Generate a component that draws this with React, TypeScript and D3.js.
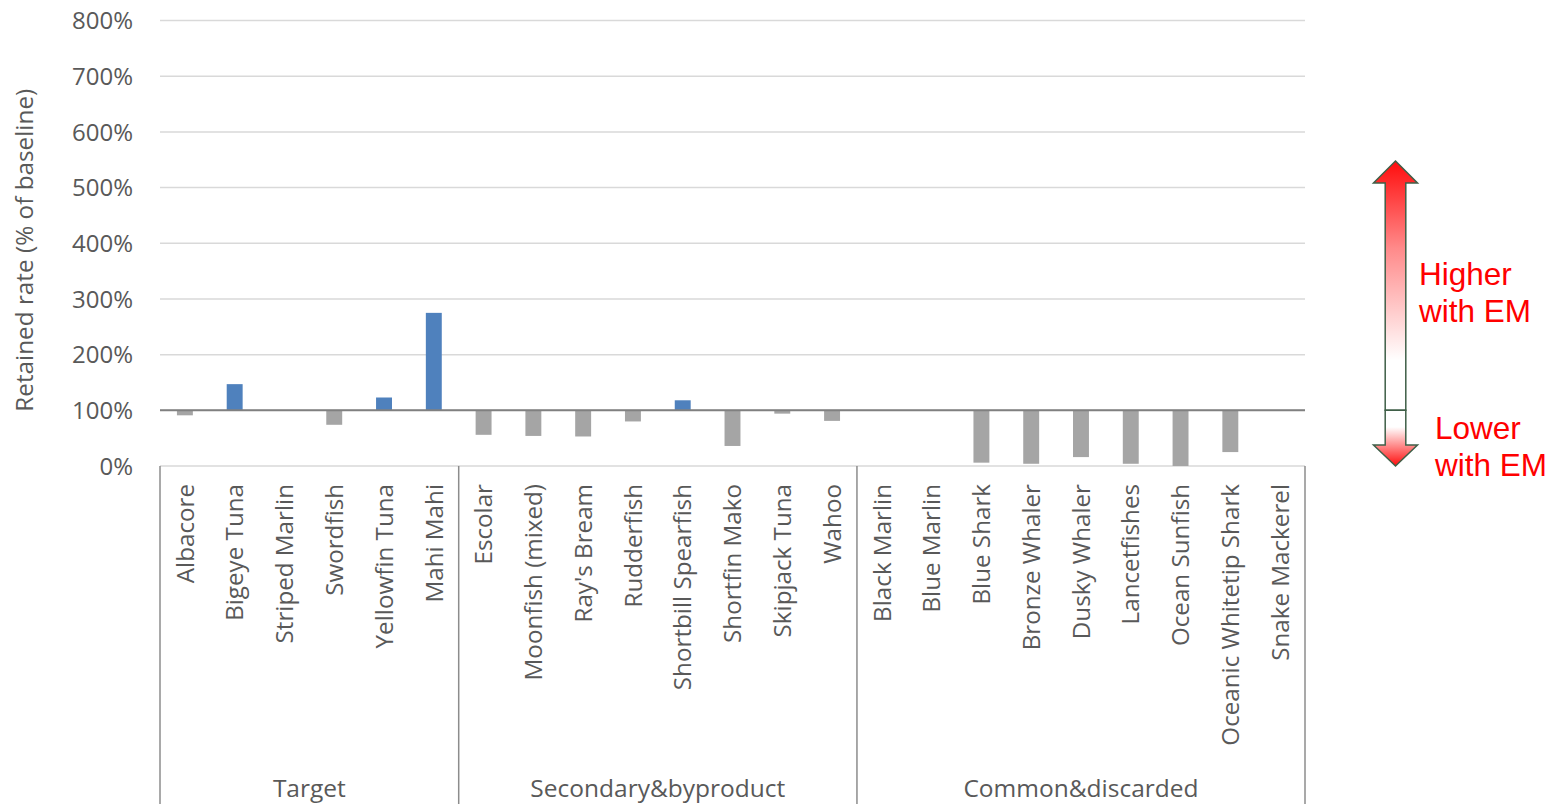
import React from "react";
import * as d3 from "d3";

// Species retained rate relative to baseline (%), grouped by catch category
const targetSpecies = ["Albacore", "Bigeye Tuna", "Striped Marlin", "Swordfish", "Yellowfin Tuna", "Mahi Mahi"];
const targetRates = [91, 147, 100, 74, 123, 275];

const secondarySpecies = ["Escolar", "Moonfish (mixed)", "Ray's Bream", "Rudderfish", "Shortbill Spearfish", "Shortfin Mako", "Skipjack Tuna", "Wahoo"];
const secondaryRates = [56, 54, 53, 80, 118, 36, 94, 81];

const discardedSpecies = ["Black Marlin", "Blue Marlin", "Blue Shark", "Bronze Whaler", "Dusky Whaler", "Lancetfishes", "Ocean Sunfish", "Oceanic Whitetip Shark", "Snake Mackerel"];
const discardedRates = [100, 100, 6, 4, 16, 4, 0, 25, 100];

const groupNames = ["Target", "Secondary&byproduct", "Common&discarded"];
const yTicks = [0, 100, 200, 300, 400, 500, 600, 700, 800];

const groups = [
  { name: groupNames[0], species: targetSpecies, rates: targetRates },
  { name: groupNames[1], species: secondarySpecies, rates: secondaryRates },
  { name: groupNames[2], species: discardedSpecies, rates: discardedRates },
];

const rows = groups.flatMap((g) => g.species.map((s, i) => ({ species: s, rate: g.rates[i], group: g.name })));

const W = 1555;
const H = 804;
const left = 160;
const right = 1305;
const top = 20.5;
const bottom = 466;
const baseline = 100;

const FONT = "'Open Sans', sans-serif";
const TEXT = "#595959";

export default function App() {
  const x = d3
    .scaleBand<string>()
    .domain(rows.map((r) => r.species))
    .range([left, right])
    .paddingInner(0.68)
    .paddingOuter(0.34);
  const y = d3.scaleLinear().domain([0, 800]).range([bottom, top]);
  const step = x.step();

  // group boundaries
  const bounds: { name: string; x0: number; x1: number }[] = [];
  let idx = 0;
  groups.forEach((g) => {
    const x0 = left + idx * step;
    idx += g.species.length;
    const x1 = left + idx * step;
    bounds.push({ name: g.name, x0, x1 });
  });

  const y100 = y(baseline);

  // arrow geometry
  const ax = 1395.5;
  const shaftHalf = 10.3;
  const headHalf = 22;
  const tipTop = 161;
  const headTopBase = 183;
  const headBotBase = 445;
  const tipBot = 466;

  const upPath = `M${ax},${tipTop} L${ax + headHalf},${headTopBase} L${ax + shaftHalf},${headTopBase} L${ax + shaftHalf},${y100} L${ax - shaftHalf},${y100} L${ax - shaftHalf},${headTopBase} L${ax - headHalf},${headTopBase} Z`;
  const downPath = `M${ax - shaftHalf},${y100} L${ax + shaftHalf},${y100} L${ax + shaftHalf},${headBotBase} L${ax + headHalf},${headBotBase} L${ax},${tipBot} L${ax - headHalf},${headBotBase} L${ax - shaftHalf},${headBotBase} Z`;

  return (
    <svg width={W} height={H} style={{ position: "absolute", left: 0, top: 0, background: "#fff" }}>
      <defs>
        <linearGradient id="upGrad" x1="0" y1={tipTop} x2="0" y2={y100} gradientUnits="userSpaceOnUse">
          <stop offset="0" stopColor="#ff0d0d" />
          <stop offset="0.35" stopColor="#ff8a8a" />
          <stop offset="0.8" stopColor="#ffffff" />
          <stop offset="1" stopColor="#ffffff" />
        </linearGradient>
        <linearGradient id="downGrad" x1="0" y1={y100} x2="0" y2={tipBot} gradientUnits="userSpaceOnUse">
          <stop offset="0" stopColor="#ffffff" />
          <stop offset="0.3" stopColor="#ffffff" />
          <stop offset="1" stopColor="#ff0d0d" />
        </linearGradient>
      </defs>

      {/* gridlines */}
      {yTicks.map((t) => (
        <line key={t} x1={left} x2={right} y1={y(t)} y2={y(t)} stroke="#d9d9d9" strokeWidth={1.5} />
      ))}

      {/* y tick labels */}
      {yTicks.map((t) => (
        <text key={"l" + t} x={133} y={y(t)} dy="0.36em" textAnchor="end" fontFamily={FONT} fontSize={24} fill={TEXT}>
          {t}%
        </text>
      ))}

      {/* y axis title */}
      <text
        transform={`translate(24,${(top + bottom) / 2 + 7}) rotate(-90)`}
        textAnchor="middle"
        dy="0.36em"
        fontFamily={FONT}
        fontSize={24.3}
        fill={TEXT}
      >
        Retained rate (% of baseline)
      </text>

      {/* bars relative to the 100% baseline */}
      {rows.map((r) => {
        const yv = y(r.rate);
        const y0 = Math.min(yv, y100);
        const h = Math.abs(yv - y100);
        return (
          <rect
            key={r.species}
            x={x(r.species)}
            y={y0}
            width={x.bandwidth()}
            height={h}
            fill={r.rate > baseline ? "#4f81bd" : "#a5a5a5"}
          />
        );
      })}

      {/* category axis at 100% */}
      <line x1={left} x2={right} y1={y100} y2={y100} stroke="#808080" strokeWidth={2} />

      {/* group separators */}
      {[left, ...bounds.map((b) => b.x1)].map((bx, i) => (
        <line key={"sep" + i} x1={bx} x2={bx} y1={bottom} y2={H} stroke="#8c8c8c" strokeWidth={1.5} />
      ))}

      {/* species labels */}
      {rows.map((r) => (
        <text
          key={"t" + r.species}
          transform={`translate(${(x(r.species) as number) + x.bandwidth() / 2},484) rotate(-90)`}
          textAnchor="end"
          dy="0.36em"
          fontFamily={FONT}
          fontSize={24.2}
          fill={TEXT}
        >
          {r.species}
        </text>
      ))}

      {/* group labels */}
      {bounds.map((b) => (
        <text key={"g" + b.name} x={(b.x0 + b.x1) / 2} y={797} textAnchor="middle" fontFamily={FONT} fontSize={24.5} fill={TEXT}>
          {b.name}
        </text>
      ))}

      {/* direction arrow */}
      <path d={upPath} fill="url(#upGrad)" stroke="#3f5f48" strokeWidth={1.5} strokeLinejoin="miter" />
      <path d={downPath} fill="url(#downGrad)" stroke="#3f5f48" strokeWidth={1.5} strokeLinejoin="miter" />

      <g fontFamily="'Liberation Sans', Arial, sans-serif" fontSize={31.5} fill="#ff0000">
        <text x={1419} y={285}>Higher</text>
        <text x={1419} y={322}>with EM</text>
        <text x={1435} y={439}>Lower</text>
        <text x={1435} y={476}>with EM</text>
      </g>
    </svg>
  );
}
